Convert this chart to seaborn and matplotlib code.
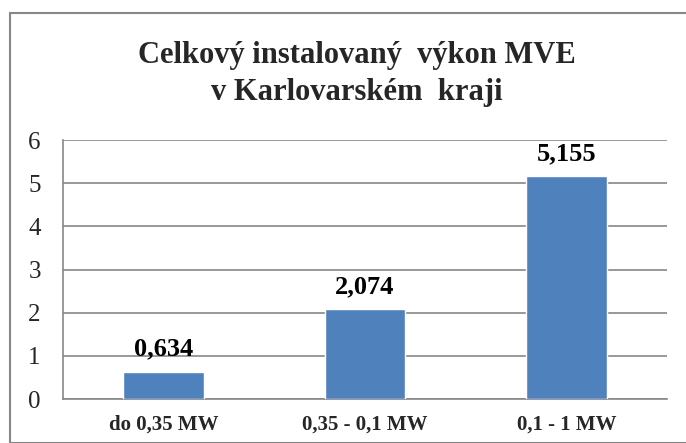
import matplotlib
matplotlib.use("Agg")
import matplotlib.pyplot as plt
import seaborn as sns
import pandas as pd
from matplotlib.patches import Rectangle

# Data
categories = ["do 0,35 MW", "0,35 - 0,1 MW", "0,1 - 1 MW"]
values = [0.634, 2.074, 5.155]
value_labels = ["0,634", "2,074", "5,155"]
yticks = [0, 1, 2, 3, 4, 5, 6]
title_lines = ["Celkový instalovaný  výkon MVE", "v Karlovarském  kraji"]

df = pd.DataFrame({"kategorie": categories, "vykon": values})

sns.set_style("white")
plt.rcParams["font.family"] = ["Liberation Serif", "DejaVu Serif"]

fig = plt.figure(figsize=(6.86, 4.43), dpi=100)
ax = fig.add_axes([63 / 686, 1 - 399 / 443, (667 - 63) / 686, (399 - 140) / 443])

sns.barplot(data=df, x="kategorie", y="vykon", color="#4F81BD", width=0.4,
            saturation=1, ax=ax, zorder=3)

# value labels above bars
for i, (v, lab) in enumerate(zip(values, value_labels)):
    ax.text(i, v + 0.37, lab, ha="center", va="baseline", fontsize=19,
            fontweight="bold", color="black")

ax.set_ylim(0, 6)
ax.set_xlim(-0.5, 2.5)
ax.set_yticks(yticks)
ax.set_yticklabels([str(t) for t in yticks], fontsize=18)
ax.yaxis.grid(True, color="#878787", linewidth=1.2, zorder=0)
ax.set_axisbelow(True)

# x tick marks at category boundaries, labels at centers
ax.set_xticks([0, 1, 2])
ax.set_xticklabels(categories, fontsize=15, fontweight="bold")
ax.tick_params(axis="x", which="major", length=0, pad=11)
ax.set_xticks([-0.5, 0.5, 1.5, 2.5], minor=True)
ax.tick_params(axis="x", which="minor", length=6, color="#878787", width=1.2)
ax.tick_params(axis="y", length=6, color="#878787", width=1.2, pad=10)

for s in ["top", "right"]:
    ax.spines[s].set_visible(False)
for s in ["left", "bottom"]:
    ax.spines[s].set_color("#878787")
    ax.spines[s].set_linewidth(1.2)

ax.set_xlabel("")
ax.set_ylabel("")

# two-line title
for line, y in zip(title_lines, [63, 100]):
    fig.text(357 / 686, 1 - y / 443, line, ha="center", va="baseline",
             fontsize=22, fontweight="bold")

# outer chart border
fig.patches.append(Rectangle((10 / 686, 0), 1, 1 - 13 / 443, transform=fig.transFigure,
                             fill=False, edgecolor="#878787", linewidth=1.5))

fig.savefig("out.png", dpi=100)
